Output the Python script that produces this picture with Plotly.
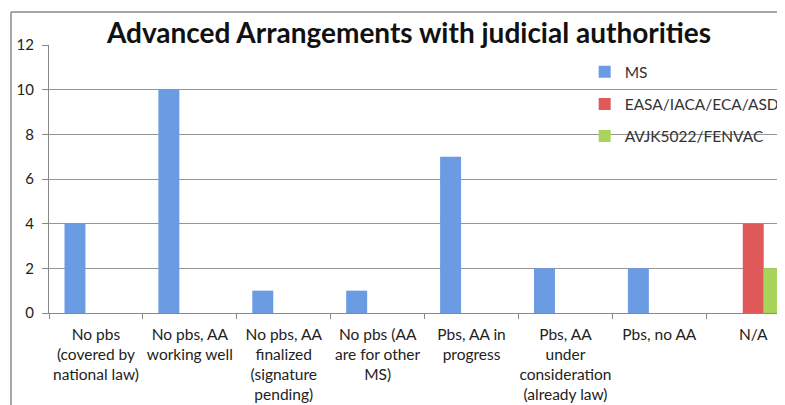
import plotly.graph_objects as go

categories = [
    "No pbs<br>(covered by<br>national law)",
    "No pbs, AA<br>working well",
    "No pbs, AA<br>finalized<br>(signature<br>pending)",
    "No pbs (AA<br>are for other<br>MS)",
    "Pbs, AA in<br>progress",
    "Pbs, AA<br>under<br>consideration<br>(already law)",
    "Pbs, no AA",
    "N/A",
]
ms_values = [4, 10, 1, 1, 7, 2, 2, 0]
easa_values = [0, 0, 0, 0, 0, 0, 0, 4]
avjk_values = [0, 0, 0, 0, 0, 0, 0, 2]
y_ticks = [0, 2, 4, 6, 8, 10, 12]

FONT = "Lato, 'Open Sans', sans-serif"

fig = go.Figure()
fig.add_trace(go.Bar(name="MS", x=categories, y=ms_values,
                     marker=dict(color="#6a9be3", line=dict(width=0)), legendgroup="a"))
fig.add_trace(go.Bar(name="EASA/IACA/ECA/ASD", x=categories, y=easa_values,
                     marker=dict(color="#e05a5a", line=dict(width=0)), legendgroup="b"))
fig.add_trace(go.Bar(name="AVJK5022/FENVAC", x=categories, y=avjk_values,
                     marker=dict(color="#a8d45c", line=dict(width=0)), legendgroup="c"))

# page body has an 8px offset; layout coordinates below are in figure pixels
L, T, B = 41, 37, 305
W = 785 - L
H = B - T

fig.update_layout(
    width=785, height=405,
    margin=dict(l=L, r=0, t=T, b=405 - B, autoexpand=False),
    paper_bgcolor="white", plot_bgcolor="white",
    barmode="group", bargap=0.33, bargroupgap=0,
    font=dict(family=FONT, size=14, color="#222"),
    title=dict(text="<b>Advanced Arrangements with judicial authorities</b>",
               x=401 / 785, xanchor="center", xref="container",
               y=1 - 25 / 405, yanchor="middle", yref="container",
               font=dict(family=FONT, size=28, color="#111")),
    legend=dict(x=0.72, y=0.962, xanchor="left", yanchor="top",
                bgcolor="rgba(0,0,0,0)", font=dict(size=15.5, color="#333"),
                traceorder="grouped", tracegroupgap=9, itemwidth=30),
    xaxis=dict(range=[-0.5, -0.5 + W / 93.9], tickson="boundaries", ticks="outside",
               ticklen=5, tickcolor="#888", showline=True, linecolor="#888",
               linewidth=1, showgrid=False, tickangle=0, automargin=False,
               ticklabelstandoff=7,
               tickfont=dict(size=15.5, color="#222")),
    yaxis=dict(range=[0, 12], tickvals=y_ticks, ticks="outside", ticklen=6,
               tickcolor="#888", showline=True, linecolor="#888", linewidth=1,
               gridcolor="#959595", gridwidth=1, zeroline=False, automargin=False,
               ticklabelstandoff=5,
               tickfont=dict(size=15, color="#222")),
    showlegend=True,
)

# outer chart border (cropped chart frame)
fx = (3 - L) / W
fy = (B - 4) / H
fig.add_shape(type="line", xref="paper", yref="paper", x0=fx, x1=fx, y0=fy, y1=-1,
              line=dict(color="#8a8a8a", width=1.5))
fig.add_shape(type="line", xref="paper", yref="paper", x0=fx, x1=1.2, y0=fy, y1=fy,
              line=dict(color="#8a8a8a", width=1.5))

fig.write_html("out.html")
